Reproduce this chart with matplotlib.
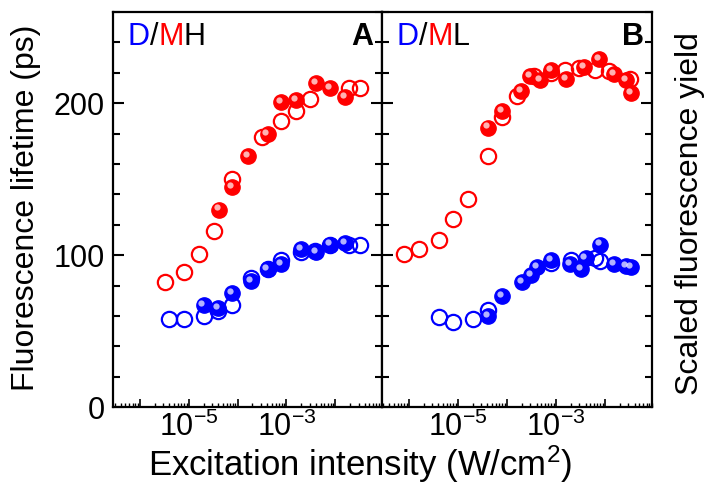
import numpy as np
import matplotlib
matplotlib.use('Agg')
from matplotlib import pyplot as plt
from matplotlib import ticker, transforms

plt.rcParams['font.family'] = ['Liberation Sans', 'DejaVu Sans']
plt.rcParams['mathtext.fontset'] = 'custom'
plt.rcParams['mathtext.rm'] = 'Liberation Sans'
plt.rcParams['mathtext.it'] = 'Liberation Sans:italic'

# panel A (D/MH)
a_red_open_x = [3.2e-6, 7.9e-6, 1.6e-5, 3.2e-5, 7.8e-5, 3.2e-4, 7.8e-4, 1.6e-3, 3.1e-3, 1.9e-2, 3.2e-2]
a_red_open_y = [82, 89, 101, 116, 150, 178, 188, 195, 203, 210, 210]
a_red_full_x = [4.1e-5, 7.8e-5, 1.6e-4, 4.1e-4, 7.8e-4, 1.6e-3, 4.1e-3, 7.9e-3, 1.6e-2]
a_red_full_y = [130, 145, 165, 180, 201, 202, 213, 210, 204]
a_blue_open_x = [4.0e-6, 7.9e-6, 2.0e-5, 4.0e-5, 7.8e-5, 1.9e-4, 4.1e-4, 7.8e-4, 2.0e-3, 3.9e-3, 7.9e-3, 1.9e-2, 3.2e-2]
a_blue_open_y = [58, 58, 60, 63, 67, 85, 91, 97, 102, 103, 107, 107, 107]
a_blue_full_x = [2.0e-5, 4.0e-5, 7.8e-5, 1.9e-4, 4.1e-4, 7.8e-4, 2.0e-3, 4.1e-3, 7.9e-3, 1.6e-2]
a_blue_full_y = [67, 65, 75, 83, 91, 94, 104, 102, 107, 108]

# panel B (D/ML)
b_red_open_x = [7.9e-7, 1.6e-6, 4.1e-6, 7.9e-6, 1.6e-5, 4.1e-5, 8.1e-5, 1.6e-4, 3.5e-4, 7.9e-4, 1.5e-3, 3.0e-3, 6.3e-3, 1.2e-2, 3.2e-2]
b_red_open_y = [101, 104, 110, 124, 137, 165, 191, 205, 218, 220, 222, 223, 222, 221, 216]
b_red_full_x = [4.1e-5, 8.1e-5, 1.9e-4, 3.0e-4, 4.8e-4, 7.9e-4, 1.6e-3, 3.8e-3, 7.6e-3, 1.5e-2, 2.7e-2, 3.4e-2]
b_red_full_y = [184, 195, 208, 218, 215, 222, 216, 224, 229, 219, 215, 207]
b_blue_open_x = [4.1e-6, 7.9e-6, 2.0e-5, 4.1e-5, 7.9e-4, 2.0e-3, 6.3e-3, 7.9e-3]
b_blue_open_y = [59, 56, 58, 64, 95, 97, 98, 96]
b_blue_full_x = [4.1e-5, 8.1e-5, 2.0e-4, 3.1e-4, 4.1e-4, 7.9e-4, 1.9e-3, 3.2e-3, 4.0e-3, 7.9e-3, 1.5e-2, 2.7e-2, 3.4e-2]
b_blue_full_y = [60, 73, 82, 87, 92, 97, 94, 91, 98, 107, 94, 93, 92]

panel_names = [('D', 'M', 'H', 'A'), ('D', 'M', 'L', 'B')]
red = '#ff0000'
blue = '#0000ff'
fs_tick = 22
fs_ylab = 23
fs_xlab = 25
fs_tag = 22


def spheres(ax, x, y, color):
    # filled marker with a small light spot, to mimic the shaded balls
    ax.plot(x, y, 'o', ms=11, mfc=color, mec=color, mew=1, ls='none', zorder=3)
    tr = transforms.offset_copy(ax.transData, fig=fig, x=-1.5, y=1.5, units='points')
    ax.plot(x, y, 'o', ms=4.5, mfc='white', mec='none', alpha=0.7, ls='none',
            transform=tr, zorder=4)


def rings(ax, x, y, color):
    ax.plot(x, y, 'o', ms=11, mfc='none', mec=color, mew=1.6, ls='none', zorder=2)


fig = plt.figure(figsize=(7.07, 4.84), dpi=100)
axA = fig.add_axes([0.160, 0.159, 0.380, 0.816])
axB = fig.add_axes([0.540, 0.159, 0.382, 0.816])

data = [
    (a_red_open_x, a_red_open_y, a_red_full_x, a_red_full_y,
     a_blue_open_x, a_blue_open_y, a_blue_full_x, a_blue_full_y),
    (b_red_open_x, b_red_open_y, b_red_full_x, b_red_full_y,
     b_blue_open_x, b_blue_open_y, b_blue_full_x, b_blue_full_y),
]

for ax, d, names in zip([axA, axB], data, panel_names):
    rox, roy, rfx, rfy, box, boy, bfx, bfy = d
    rings(ax, rox, roy, red)
    rings(ax, box, boy, blue)
    spheres(ax, rfx, rfy, red)
    spheres(ax, bfx, bfy, blue)

    ax.set_xscale('log')
    ax.set_xlim(2.8e-7, 9e-2)
    ax.set_ylim(0, 260)

    ax.xaxis.set_major_locator(ticker.FixedLocator([1e-6, 1e-5, 1e-4, 1e-3, 1e-2, 1e-1]))
    ax.xaxis.set_major_formatter(ticker.FixedFormatter(['', r'$10^{-5}$', '', r'$10^{-3}$', '', '']))
    ax.xaxis.set_minor_locator(ticker.LogLocator(base=10, subs=np.arange(2, 10), numticks=20))
    ax.xaxis.set_minor_formatter(ticker.NullFormatter())
    ax.yaxis.set_major_locator(ticker.MultipleLocator(100))
    ax.yaxis.set_minor_locator(ticker.MultipleLocator(20))

    ax.tick_params(axis='both', which='both', direction='in', labelsize=fs_tick)
    ax.tick_params(axis='y', which='both', left=True, right=True, pad=6)
    ax.tick_params(axis='y', which='major', length=8, width=1.5)
    ax.tick_params(axis='y', which='minor', length=5, width=1.5)
    ax.tick_params(axis='x', which='major', length=6, width=1.2, pad=3)
    ax.tick_params(axis='x', which='minor', length=3, width=1.0)
    for s in ax.spines.values():
        s.set_linewidth(1.6)

    # coloured panel tag, e.g. D/MH
    t1 = ax.text(0.055, 0.975, names[0], color=blue, fontsize=fs_tag, transform=ax.transAxes,
                 ha='left', va='top')
    t2 = ax.annotate('/', xy=(1, 0), xycoords=t1, color='black', fontsize=fs_tag, va='bottom')
    t3 = ax.annotate(names[1], xy=(1, 0), xycoords=t2, color=red, fontsize=fs_tag, va='bottom')
    ax.annotate(names[2], xy=(1, 0), xycoords=t3, color='black', fontsize=fs_tag, va='bottom')
    ax.text(0.97, 0.975, names[3], fontsize=fs_tag, fontweight='bold', transform=ax.transAxes,
            ha='right', va='top')

axB.tick_params(axis='y', which='both', labelleft=False)

fig.text(26 / 707, 1 - 208 / 484, 'Fluorescence lifetime (ps)', fontsize=fs_ylab,
         rotation=90, ha='center', va='center')
fig.text(690 / 707, 1 - 214 / 484, 'Scaled fluorescence yield', fontsize=fs_ylab,
         rotation=90, ha='center', va='center')
fig.text(360 / 707, 1 - 464 / 484, 'Excitation intensity (W/cm$^2$)', fontsize=fs_xlab,
         ha='center', va='center')

plt.savefig('out.png', dpi=100, facecolor='w')
